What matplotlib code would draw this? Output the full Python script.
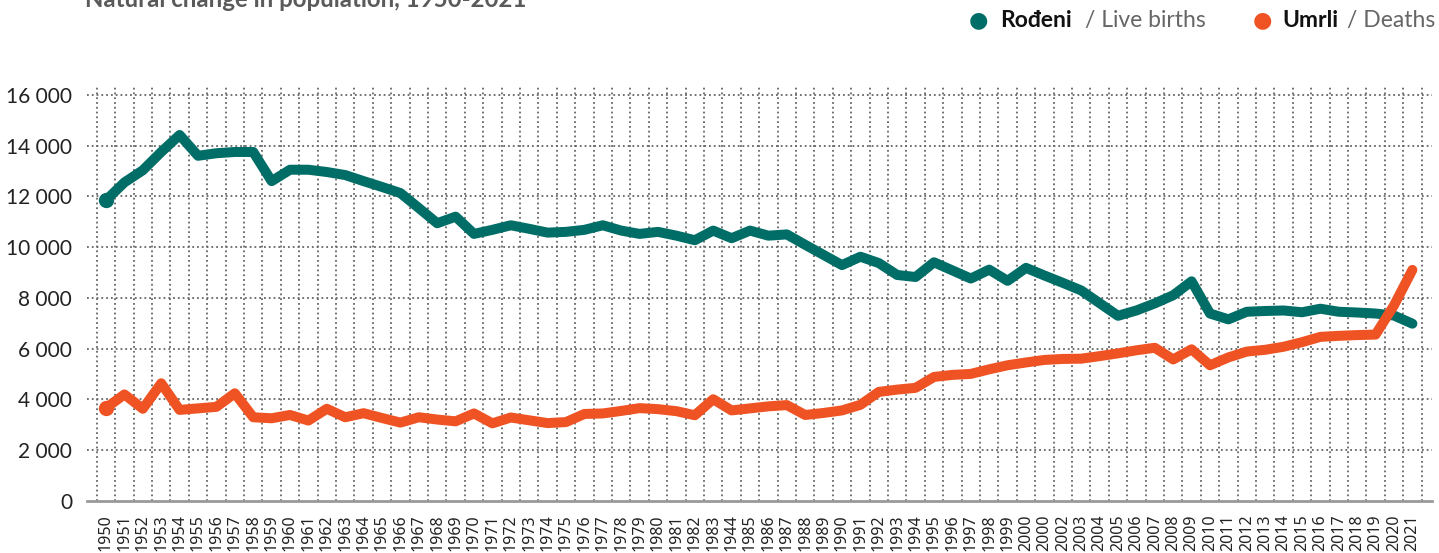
import matplotlib
matplotlib.use('Agg')
import matplotlib.pyplot as plt
import numpy as np

# Data
years = ['1950', '1951', '1952', '1953', '1954', '1955', '1956', '1957', '1958', '1959',
         '1960', '1961', '1962', '1963', '1964', '1965', '1966', '1967', '1968', '1969',
         '1970', '1971', '1972', '1973', '1974', '1975', '1976', '1977', '1978', '1979',
         '1980', '1981', '1982', '1983', '1944', '1985', '1986', '1987', '1988', '1989',
         '1990', '1991', '1992', '1993', '1994', '1995', '1996', '1997', '1998', '1999',
         '2000', '2000', '2002', '2003', '2004', '2005', '2006', '2007', '2008', '2009',
         '2010', '2011', '2012', '2013', '2014', '2015', '2016', '2017', '2018', '2019',
         '2020', '2021']

births = [11850, 12550, 13030, 13750, 14420, 13600, 13700, 13750, 13750, 12600,
          13050, 13050, 12960, 12840, 12600, 12370, 12130, 11540, 10940, 11200,
          10520, 10680, 10860, 10720, 10570, 10600, 10680, 10860, 10650, 10520,
          10600, 10450, 10270, 10650, 10350, 10650, 10450, 10500, 10090, 9690,
          9290, 9620, 9370, 8900, 8820, 9400, 9080, 8760, 9110, 8670,
          9180, 8880, 8590, 8290, 7790, 7290, 7500, 7780, 8100, 8650,
          7380, 7150, 7450, 7480, 7500, 7430, 7570, 7450, 7420, 7380,
          7300, 6980]

deaths = [3660, 4190, 3625, 4630, 3580, 3640, 3700, 4235, 3290, 3250,
          3380, 3160, 3625, 3290, 3450, 3260, 3080, 3290, 3200, 3130,
          3440, 3050, 3280, 3170, 3060, 3100, 3420, 3440, 3540, 3650,
          3610, 3530, 3370, 4000, 3560, 3640, 3720, 3770, 3380, 3460,
          3560, 3780, 4290, 4380, 4450, 4880, 4960, 5000, 5180, 5340,
          5450, 5550, 5590, 5600, 5700, 5810, 5930, 6030, 5570, 5970,
          5340, 5650, 5880, 5950, 6070, 6250, 6460, 6500, 6530, 6550,
          7700, 9100]

y_ticks = [0, 2000, 4000, 6000, 8000, 10000, 12000, 14000, 16000]

TEAL = '#006e66'
ORANGE = '#f05323'
W, H = 1439, 553

plt.rcParams['font.family'] = ['Lato', 'DejaVu Sans']

fig = plt.figure(figsize=(W / 100, H / 100), dpi=100)
ax = fig.add_axes([86.7 / W, 1 - 500.7 / H, (1431.7 - 86.7) / W, (500.7 - 87.3) / H])

x = np.arange(len(years))
for vals, col in [(births, TEAL), (deaths, ORANGE)]:
    ax.plot(x, vals, color=col, lw=7.2, solid_capstyle='round',
            solid_joinstyle='round', zorder=3)
    ax.plot(x[:1], vals[:1], 'o', color=col, ms=10, zorder=3)

ax.set_xlim(-1.05, 72.05)
ax.set_ylim(0, 16300)

ax.set_yticks(y_ticks)
ax.set_yticklabels([f'{v:,}'.replace(',', ' ') for v in y_ticks])
ax.set_xticks(x)
ax.set_xticklabels(years, rotation=90, fontsize=11.5, family='Noto Sans', color='#222222')
ax.set_xticks(np.arange(-0.5, len(years), 1), minor=True)
ax.tick_params(axis='y', length=0, pad=10.5, labelsize=15, labelcolor='#222222')
ax.tick_params(axis='x', which='both', length=0, pad=10)

ax.grid(False)
for v in y_ticks[1:]:
    ax.axhline(v, color='#666666', lw=1.3, ls=':', zorder=1)
ax.grid(True, axis='x', which='minor', color='#666666', lw=1.3, ls=':', zorder=1)

for s in ['top', 'right', 'left']:
    ax.spines[s].set_visible(False)
ax.spines['bottom'].set_color('#999999')
ax.spines['bottom'].set_linewidth(2)

# title, cut at the top edge as in the reference
fig.text(85 / W, 1 - 7 / H, 'Natural change in population, 1950-2021', fontsize=17.3,
         fontweight='bold', color='#5a5a5a', ha='left', va='baseline')

# legend
def fx(px):
    return px / W

ly = 1 - 27 / H
fig.text(fx(978), 1 - 20 / H, '\u25cf', color=TEAL, fontsize=16, ha='center', va='center',
         family='DejaVu Sans')
fig.text(fx(1000), ly, 'Rođeni', fontsize=16.5, fontweight='bold', color='#111111', va='baseline')
fig.text(fx(1085), ly, '/ Live births', fontsize=16.5, color='#666666', va='baseline')
fig.text(fx(1262), 1 - 20 / H, '\u25cf', color=ORANGE, fontsize=16, ha='center', va='center',
         family='DejaVu Sans')
fig.text(fx(1282), ly, 'Umrli', fontsize=16.5, fontweight='bold', color='#111111', va='baseline')
fig.text(fx(1347), ly, '/ Deaths', fontsize=16.5, color='#666666', va='baseline')

fig.savefig('out.png', dpi=100)
